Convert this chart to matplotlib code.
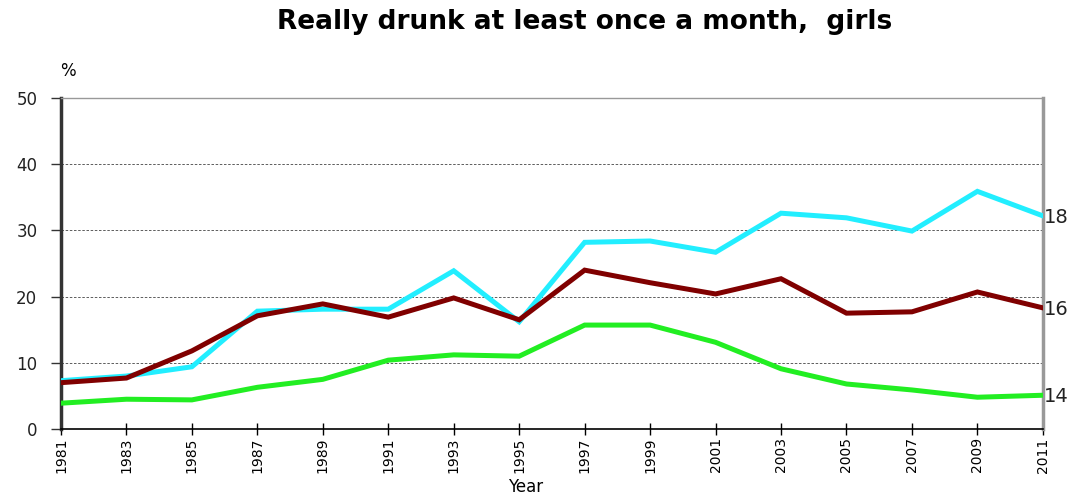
import matplotlib
matplotlib.use('Agg')
import matplotlib.pyplot as plt

plt.rcParams['font.family'] = ['DejaVu Sans']

years = list(range(1981, 2012, 2))
age18 = [7.3, 8.0, 9.4, 17.8, 18.1, 18.1, 23.9, 16.2, 28.2, 28.4, 26.7, 32.6, 31.9, 29.9, 35.9, 32.2]
age16 = [7.0, 7.7, 11.8, 17.1, 18.9, 16.9, 19.8, 16.5, 24.0, 22.1, 20.4, 22.7, 17.5, 17.7, 20.7, 18.3]
age14 = [3.9, 4.5, 4.4, 6.3, 7.5, 10.4, 11.2, 11.0, 15.7, 15.7, 13.1, 9.1, 6.8, 5.9, 4.8, 5.1]
series = [('18', age18, '#22EEFF'), ('16', age16, '#800000'), ('14', age14, '#22EE22')]

fig = plt.figure(figsize=(10.79, 4.97), dpi=100)
ax = fig.add_axes([0.0565, 0.1368, 0.910, 0.666])

for label, vals, color in series:
    ax.plot(years, vals, color=color, linewidth=3.6, solid_joinstyle='miter', zorder=3)
    ax.annotate(label, (years[-1], vals[-1]), xytext=(1, -1), textcoords='offset points',
                ha='left', va='center', fontsize=14, color='#222222', annotation_clip=False)

ax.set_xlim(1981, 2011)
ax.set_ylim(0, 50)
ax.set_xticks(years)
ax.set_xticklabels([str(y) for y in years], rotation=90, fontsize=10)
ax.set_yticks(range(0, 51, 10))
ax.tick_params(axis='y', labelsize=12, direction='out', length=7, width=1, pad=10,
               colors='#333333', labelcolor='#222222')
ax.tick_params(axis='x', direction='inout', length=8, width=1, pad=2)
for v in range(10, 50, 10):
    ax.axhline(v, color='#444444', linestyle=(0, (3, 2)), linewidth=0.6, zorder=1)

ax.spines['left'].set_linewidth(2.5)
ax.spines['left'].set_color('#333333')
ax.spines['right'].set_linewidth(2.5)
ax.spines['right'].set_color('#999999')
ax.spines['top'].set_color('#999999')
ax.spines['top'].set_linewidth(1)
ax.spines['bottom'].set_linewidth(1.2)

fig.text(0.542, 0.955, 'Really drunk at least once a month,  girls', ha='center', va='center',
         fontsize=19, fontweight='bold')
fig.text(0.063, 0.858, '%', ha='center', va='center', fontsize=12)
fig.text(0.487, 0.002, 'Year', ha='center', va='bottom', fontsize=12)

fig.savefig('out.png', dpi=100)
